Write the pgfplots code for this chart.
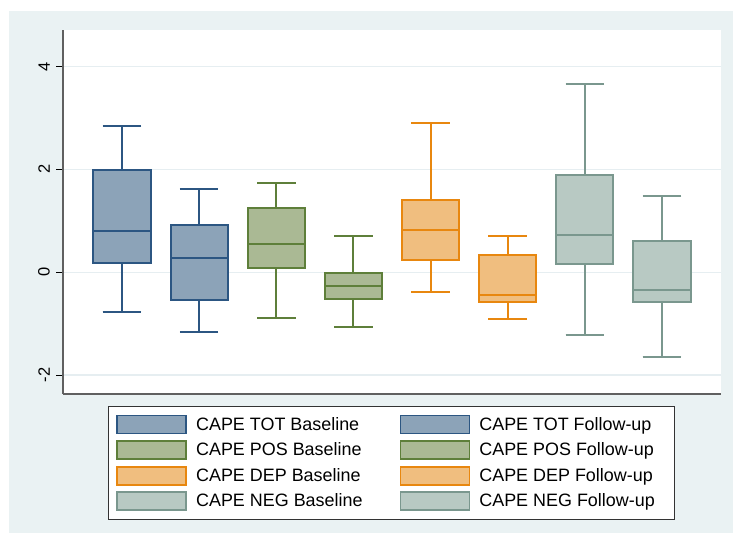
\documentclass[border=0pt]{standalone}
\usepackage{pgfplots}
\pgfplotsset{compat=1.18}
\usepgfplotslibrary{statistics}
\usepackage{fontspec}
\setmainfont{Liberation Sans}
\definecolor{bgc}{HTML}{EAF2F3}
\definecolor{gridc}{HTML}{E6EEF1}
\definecolor{axc}{HTML}{606060}
\definecolor{totE}{HTML}{2C5682}
\definecolor{totF}{HTML}{8CA3B8}
\definecolor{posE}{HTML}{5E7F3A}
\definecolor{posF}{HTML}{AAB994}
\definecolor{depE}{HTML}{E8870F}
\definecolor{depF}{HTML}{F0BE7F}
\definecolor{negE}{HTML}{7A978E}
\definecolor{negF}{HTML}{B8C9C3}
\pgfplotsset{
  mybox/.style={solid, line width=2bp, mark=none, legend image code/.code={\draw[##1, line width=1.8bp] (0bp,-9bp) rectangle (69bp,9bp);}},
}
\newcommand{\rt}[1]{\makebox[187bp][l]{#1}}
\begin{document}
\begin{tikzpicture}[x=1bp,y=1bp]
\fill[white] (0,0) rectangle (733,533);
\fill[bgc] (9,0) rectangle (733,522);
\begin{axis}[
  at={(63bp,139bp)}, anchor=south west,
  scale only axis, width=658bp, height=364bp,
  xmin=0.235, xmax=8.765, ymin=-2.37, ymax=4.71,
  axis background/.style={fill=white},
  axis x line*=bottom, axis y line*=left,
  axis line style={draw=axc, line width=1.3bp, -},
  xtick=\empty,
  ytick={-2,0,2,4},
  ytick pos=left,
  tick align=outside,
  major tick length=7bp,
  tick style={draw=black, line width=0.8bp},
  /pgf/number format/assume math mode=true,
  yticklabel style={rotate=90, anchor=south, inner sep=0pt, yshift=6bp, font=\fontsize{16.5}{18}\selectfont},
  ymajorgrids,
  grid style={draw=gridc, line width=1.2bp},
  boxplot/draw direction=y,
  boxplot/box extend=0.74,
  boxplot/whisker extend=0.5,
  legend columns=2,
  legend cell align=left,
  legend style={at={(0.499,-0.033)}, anchor=north, draw=black!80, line width=1bp, fill=white,
    inner xsep=8bp, inner ysep=8bp, column sep=9bp, row sep=5.8bp,
    nodes={inner sep=0pt},
    /tikz/every even column/.append style={column sep=37bp},
    font=\fontsize{18}{20}\selectfont},
]
\addplot[mybox, draw=totE, fill=totF, boxplot prepared={draw position=1, lower whisker=-0.77, lower quartile=0.17, median=0.80, upper quartile=1.99, upper whisker=2.84}] coordinates {};
\addlegendentry{CAPE TOT Baseline}
\addplot[mybox, draw=totE, fill=totF, boxplot prepared={draw position=2, lower whisker=-1.17, lower quartile=-0.54, median=0.28, upper quartile=0.91, upper whisker=1.62}] coordinates {};
\addlegendentry{\rt{CAPE TOT Follow-up}}
\addplot[mybox, draw=posE, fill=posF, boxplot prepared={draw position=3, lower whisker=-0.89, lower quartile=0.08, median=0.54, upper quartile=1.24, upper whisker=1.73}] coordinates {};
\addlegendentry{CAPE POS Baseline}
\addplot[mybox, draw=posE, fill=posF, boxplot prepared={draw position=4, lower whisker=-1.06, lower quartile=-0.52, median=-0.26, upper quartile=-0.01, upper whisker=0.71}] coordinates {};
\addlegendentry{\rt{CAPE POS Follow-up}}
\addplot[mybox, draw=depE, fill=depF, boxplot prepared={draw position=5, lower whisker=-0.38, lower quartile=0.23, median=0.82, upper quartile=1.40, upper whisker=2.91}] coordinates {};
\addlegendentry{CAPE DEP Baseline}
\addplot[mybox, draw=depE, fill=depF, boxplot prepared={draw position=6, lower whisker=-0.92, lower quartile=-0.59, median=-0.45, upper quartile=0.34, upper whisker=0.71}] coordinates {};
\addlegendentry{\rt{CAPE DEP Follow-up}}
\addplot[mybox, draw=negE, fill=negF, boxplot prepared={draw position=7, lower whisker=-1.22, lower quartile=0.16, median=0.73, upper quartile=1.88, upper whisker=3.65}] coordinates {};
\addlegendentry{CAPE NEG Baseline}
\addplot[mybox, draw=negE, fill=negF, boxplot prepared={draw position=8, lower whisker=-1.65, lower quartile=-0.59, median=-0.34, upper quartile=0.60, upper whisker=1.48}] coordinates {};
\addlegendentry{\rt{CAPE NEG Follow-up}}
\end{axis}
\end{tikzpicture}
\end{document}
